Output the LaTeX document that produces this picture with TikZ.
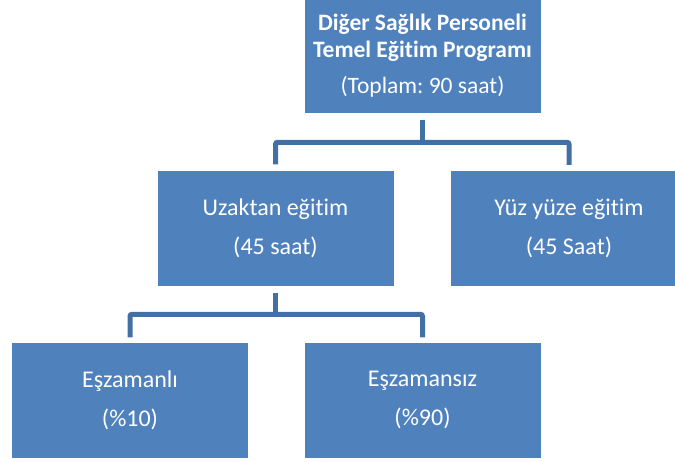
\documentclass[tikz,border=0pt]{standalone}
\usepackage{fontspec}
\setmainfont{Carlito}[Ligatures = CommonOff]
\usetikzlibrary{positioning}
\definecolor{boxblue}{RGB}{79,129,189}
\definecolor{lineblue}{RGB}{66,112,165}
\frenchspacing

\begin{document}
\begin{tikzpicture}[x = 1pt, y = -1pt,
		box/.style = {fill = boxblue, text = white, align = center, inner sep = 0pt, minimum width = 236pt, minimum height = 115pt, font = \fontsize{24}{39}\selectfont},
		conn/.style = {draw = lineblue, line width = 5pt, rounded corners = 2pt}]
	\useasboundingbox (0, 0) rectangle (675, 461);
	\clip (0, 0) rectangle (675, 461);
	\node [box, minimum height = 114pt, font = \fontsize{23.5}{27}\selectfont] (prog) at (422.5, 56) {\textbf{Diğer Sağlık Personeli}\\\textbf{Temel Eğitim Programı}\\[9pt](Toplam: 90 saat)};
	\node [box] (uzak) at (275.5, 228) {Uzaktan eğitim\\(45 saat)};
	\node [box] (yuz) at (569, 228.5) {Yüz yüze eğitim\\(45 Saat)};
	\node [box] (es) at (130, 400) {Eşzamanlı\\(\%10)};
	\node [box] (esz) at (422.5, 400) {Eşzamansız\\(\%90)};
	\coordinate (b1) at ([yshift = 28pt]uzak.north);
	\coordinate (b2) at ([yshift = 28pt]es.north);
	\draw [conn] ([yshift = -7pt]prog.south) -- (prog.south |- b1);
	\draw [conn] ([yshift = 6pt]uzak.north) -- (b1) -- (yuz.north |- b1) -- ([yshift = 6pt]yuz.north);
	\draw [conn] ([yshift = -7pt]uzak.south) -- (uzak.south |- b2);
	\draw [conn] ([yshift = 5pt]es.north) -- (b2) -- (esz.north |- b2) -- ([yshift = 5pt]esz.north);
\end{tikzpicture}
\end{document}
